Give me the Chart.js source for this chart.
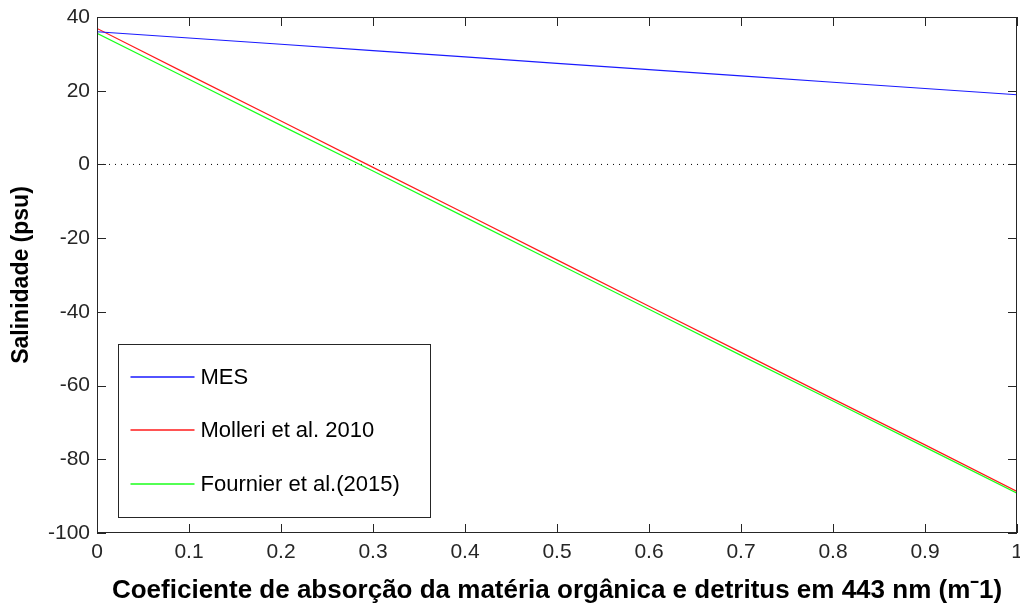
<!doctype html>
<html lang="pt">
<head>
<meta charset="utf-8">
<title>Salinidade x absorção</title>
<script src="https://cdn.jsdelivr.net/npm/chart.js"></script>
<style>
  html, body { margin: 0; padding: 0; background: #fff; }
  #chart { display: block; }
</style>
</head>
<body>
<canvas id="chart" width="1020" height="608"></canvas>
<script>
// eixo x: coeficiente de absorção (m-1)
const absorcao = [0, 0.1, 0.2, 0.3, 0.4, 0.5, 0.6, 0.7, 0.8, 0.9, 1.0];
// salinidade (psu)
const mes      = [36.0, 34.3, 32.6, 30.9, 29.2, 27.4, 25.7, 24.0, 22.3, 20.6, 18.9];
const molleri  = [36.9, 24.3, 11.8, -0.8, -13.3, -25.9, -38.5, -51.0, -63.6, -76.1, -88.7];
const fournier = [35.6, 23.1, 10.6, -1.8, -14.3, -26.8, -39.3, -51.8, -64.2, -76.7, -89.2];
const nomes    = ["MES", "Molleri et al. 2010", "Fournier et al.(2015)"];
const cores    = ["#1a1aff", "#ff1a1a", "#1aff1a"];
// linha pontilhada em zero
const zeroX = [0, 1];
const zeroY = [0, 0];

const pts = (xs, ys) => xs.map((x, i) => ({ x: x, y: ys[i] }));
const fonte = "'Liberation Sans', Arial, sans-serif";
const corEixo = "#262626";

// moldura, marcas internas e legenda no estilo do MATLAB
const molduraPlugin = {
  id: "moldura",
  afterDraw(chart) {
    const { ctx, chartArea: a, scales: { x, y } } = chart;
    const tl = 9;
    ctx.save();
    ctx.strokeStyle = corEixo;
    ctx.lineWidth = 1;
    ctx.strokeRect(Math.round(a.left) + 0.5, Math.round(a.top) + 0.5,
      Math.round(a.right - a.left) - 1, Math.round(a.bottom - a.top) - 1);
    ctx.beginPath();
    x.ticks.forEach(t => {
      const px = Math.round(x.getPixelForValue(t.value)) + 0.5;
      ctx.moveTo(px, a.bottom); ctx.lineTo(px, a.bottom - tl);
      ctx.moveTo(px, a.top); ctx.lineTo(px, a.top + tl);
    });
    y.ticks.forEach(t => {
      const py = Math.round(y.getPixelForValue(t.value)) + 0.5;
      ctx.moveTo(a.left, py); ctx.lineTo(a.left + tl, py);
      ctx.moveTo(a.right, py); ctx.lineTo(a.right - tl, py);
    });
    ctx.stroke();

    // legenda
    const bx = Math.round(a.left) + 21.5, by = 344.5, bw = 312, bh = 173;
    ctx.fillStyle = "#fff";
    ctx.fillRect(bx, by, bw, bh);
    ctx.strokeRect(bx, by, bw, bh);
    ctx.font = "22px " + fonte;
    ctx.textBaseline = "middle";
    ctx.textAlign = "left";
    const linhas = [377, 430, 484];
    nomes.forEach((nome, i) => {
      const ly = linhas[i];
      ctx.strokeStyle = cores[i];
      ctx.lineWidth = 1.4;
      ctx.beginPath();
      ctx.moveTo(bx + 12, ly); ctx.lineTo(bx + 76, ly);
      ctx.stroke();
      ctx.fillStyle = "#000";
      ctx.fillText(nome, bx + 82, ly + 1);
    });
    ctx.restore();
  }
};

function fixa(tamanho) {
  return function (scale) {
    if (scale.isHorizontal()) scale.height = tamanho; else scale.width = tamanho;
    scale.paddingLeft = 0; scale.paddingRight = 0;
    scale.paddingTop = 0; scale.paddingBottom = 0;
  };
}

const datasets = [mes, molleri, fournier].map((serie, i) => ({
  label: nomes[i],
  data: pts(absorcao, serie),
  borderColor: cores[i],
  borderWidth: 1.2,
  pointRadius: 0,
  fill: false,
  tension: 0
}));
datasets.push({
  label: "zero",
  data: pts(zeroX, zeroY),
  borderColor: "#000",
  borderWidth: 1,
  borderDash: [1, 5],
  pointRadius: 0,
  fill: false
});

new Chart(document.getElementById("chart"), {
  type: "line",
  data: { datasets: datasets },
  options: {
    responsive: false,
    animation: false,
    layout: { padding: { top: 17, right: 3, left: 0, bottom: 0 } },
    plugins: { legend: { display: false }, tooltip: { enabled: false } },
    scales: {
      x: {
        type: "linear",
        min: 0, max: 1,
        afterFit: fixa(75),
        grid: { display: false, drawTicks: false },
        border: { display: false },
        ticks: {
          stepSize: 0.1,
          padding: 7,
          color: corEixo,
          font: { family: fonte, size: 21 },
          maxRotation: 0,
          callback: v => String(+v.toFixed(1))
        },
        title: {
          display: true,
          text: "Coeficiente de absorção da matéria orgânica e detritus em 443 nm (m\u02C91)",
          color: "#000",
          font: { family: fonte, size: 26, weight: "bold" },
          padding: { top: 0, bottom: 2 }
        }
      },
      y: {
        min: -100, max: 40,
        afterFit: fixa(97),
        grid: { display: false, drawTicks: false },
        border: { display: false },
        ticks: {
          stepSize: 20,
          padding: 7,
          color: corEixo,
          font: { family: fonte, size: 21 }
        },
        title: {
          display: true,
          text: "Salinidade (psu)",
          color: "#000",
          font: { family: fonte, size: 23, weight: "bold" },
          padding: { top: 8, bottom: 0 }
        }
      }
    }
  },
  plugins: [molduraPlugin]
});
</script>
</body>
</html>
